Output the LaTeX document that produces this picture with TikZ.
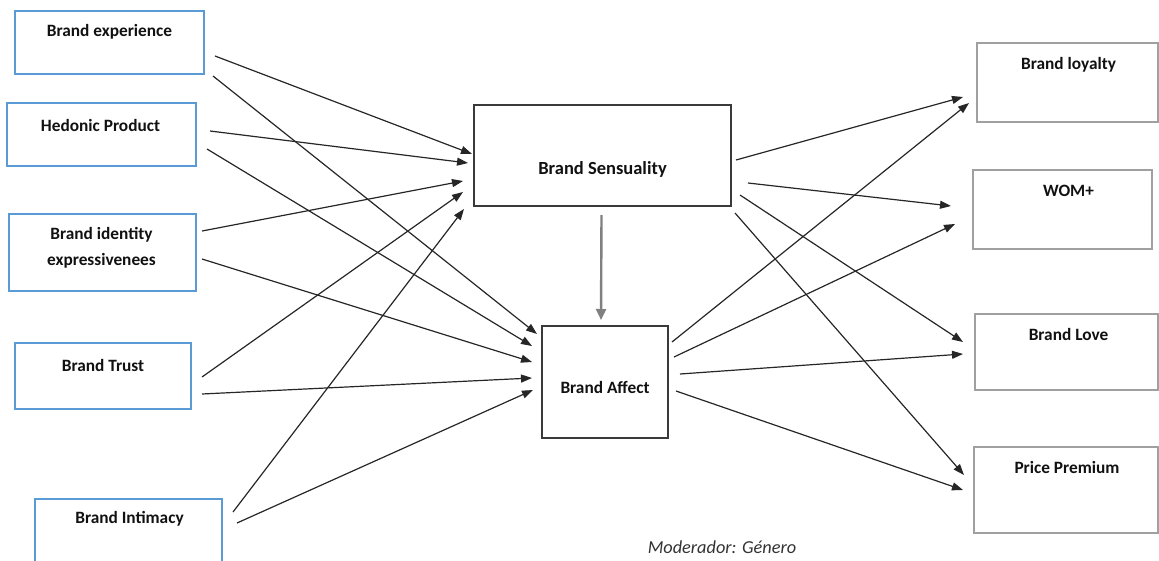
\documentclass[tikz,border=0pt]{standalone}
\usepackage{fontspec}
\setmainfont{Carlito}
\usetikzlibrary{arrows.meta,calc}
\definecolor{boxblue}{HTML}{5B9BD5}
\definecolor{boxgray}{HTML}{A0A0A0}
\definecolor{boxdark}{HTML}{3A3A3A}
\definecolor{arrgray}{HTML}{808080}
\definecolor{txt}{HTML}{111111}
\tikzset{
  every node/.style={inner sep=0pt, outer sep=0pt},
  bx/.style={draw, rectangle, anchor=north west, line width=1.3pt},
  lbox/.style={bx, draw=boxblue},
  cbox/.style={bx, draw=boxdark, line width=1.3pt},
  rbox/.style={bx, draw=boxgray, line width=1.2pt},
  lbl/.style={font=\fontsize{17.3}{26}\selectfont\bfseries, text=txt, align=center},
  arr/.style={draw=black!85, line width=1.2pt, -{Triangle[length=11pt,width=8pt]}},
  garr/.style={draw=arrgray, line width=2.4pt, -{Triangle[length=11pt,width=10pt]}}
}
\begin{document}
\begin{tikzpicture}[x=1pt,y=-1pt]
\useasboundingbox (0,0) rectangle (1159,560);
\clip (0,0) rectangle (1159,560);
% left boxes
\node[lbox, minimum width=189, minimum height=63] (be) at (15,11) {};
\node[lbox, minimum width=189, minimum height=63] (hp) at (7,103) {};
\node[lbox, minimum width=187, minimum height=77] (bi) at (9,214) {};
\node[lbox, minimum width=176, minimum height=66] (bt) at (15,343) {};
\node[lbox, minimum width=187, minimum height=80] (bn) at (35,499) {};
% centre boxes
\node[cbox, minimum width=257, minimum height=101] (bs) at (474,105) {};
\node[cbox, minimum width=126, minimum height=112] (ba) at (542,326) {};
% right boxes
\node[rbox, minimum width=181, minimum height=79] (bl) at (977,43) {};
\node[rbox, minimum width=179, minimum height=79] (wm) at (973,170) {};
\node[rbox, minimum width=183, minimum height=76] (lv) at (975,314) {};
\node[rbox, minimum width=184, minimum height=86] (pp) at (974,447) {};
% labels
\node[lbl] (tbe) at ($(be.north)+(0,21)$) {Brand experience};
\node[lbl] (thp) at ($(hp.north)+(-1,22)$) {Hedonic Product};
\node[lbl] (tbi) at ($(bi.north)+(-1,34)$) {Brand identity\\expressivenees};
\node[lbl] (tbt) at ($(bt.north)+(0,22)$) {Brand Trust};
\node[lbl] (tbn) at ($(bn.north)+(1,20)$) {Brand Intimacy};
\node[lbl, font=\fontsize{18.5}{22}\selectfont\bfseries] (tbs) at ($(bs.north)+(0,64)$) {Brand Sensuality};
\node[lbl] (tba) at ($(ba.north)+(0,61)$) {Brand Affect};
\node[lbl] (tbl) at ($(bl.north)+(1,22)$) {Brand loyalty};
\node[lbl] (twm) at ($(wm.north)+(6,21)$) {WOM+};
\node[lbl] (tlv) at ($(lv.north)+(2,20)$) {Brand Love};
\node[lbl] (tpp) at ($(pp.north)+(1,20)$) {Price Premium};
\node[font=\fontsize{18.3}{22}\selectfont\itshape, text=black!80] (mod) at (722,547) {Moderador: Género};
% left arrows
\draw[arr] ($(be.north east)+(11,45)$) -- ($(bs.north west)+(-2,49)$);
\draw[arr] ($(be.north east)+(9,65)$) -- ($(ba.north west)+(-5,8)$);
\draw[arr] ($(hp.north east)+(14,28)$) -- ($(bs.north west)+(-6,58)$);
\draw[arr] ($(hp.north east)+(11,46)$) -- ($(ba.north west)+(-10,20)$);
\draw[arr] ($(bi.north east)+(6,17)$) -- ($(bs.north west)+(-11,76)$);
\draw[arr] ($(bi.north east)+(6,45)$) -- ($(ba.north west)+(-10,36)$);
\draw[arr] ($(bt.north east)+(11,34)$) -- ($(bs.north west)+(-11,87)$);
\draw[arr] ($(bt.north east)+(11,51)$) -- ($(ba.north west)+(-10,52)$);
\draw[arr] ($(bn.north east)+(11,13)$) -- ($(bs.north west)+(-10,104)$);
\draw[arr] ($(bn.north east)+(15,24)$) -- ($(ba.north west)+(-9,64)$);
% right arrows
\draw[arr] ($(bs.north east)+(5,55)$) -- ($(bl.north west)+(-14,54)$);
\draw[arr] ($(bs.north east)+(17,78)$) -- ($(wm.north west)+(-22,36)$);
\draw[arr] ($(bs.north east)+(9,90)$) -- ($(lv.north west)+(-12,28)$);
\draw[arr] ($(bs.north east)+(4,108)$) -- ($(pp.north west)+(-10,28)$);
\draw[arr] ($(ba.north east)+(4,16)$) -- ($(bl.north west)+(-8,60)$);
\draw[arr] ($(ba.north east)+(6,31)$) -- ($(wm.north west)+(-18,54)$);
\draw[arr] ($(ba.north east)+(12,48)$) -- ($(lv.north west)+(-12,40)$);
\draw[arr] ($(ba.north east)+(8,65)$) -- ($(pp.north west)+(-11,43)$);
% moderation arrow
\draw[garr] ($(bs.south)+(-1,9)$) -- ($(ba.north)+(-4,-6)$);
\end{tikzpicture}
\end{document}
